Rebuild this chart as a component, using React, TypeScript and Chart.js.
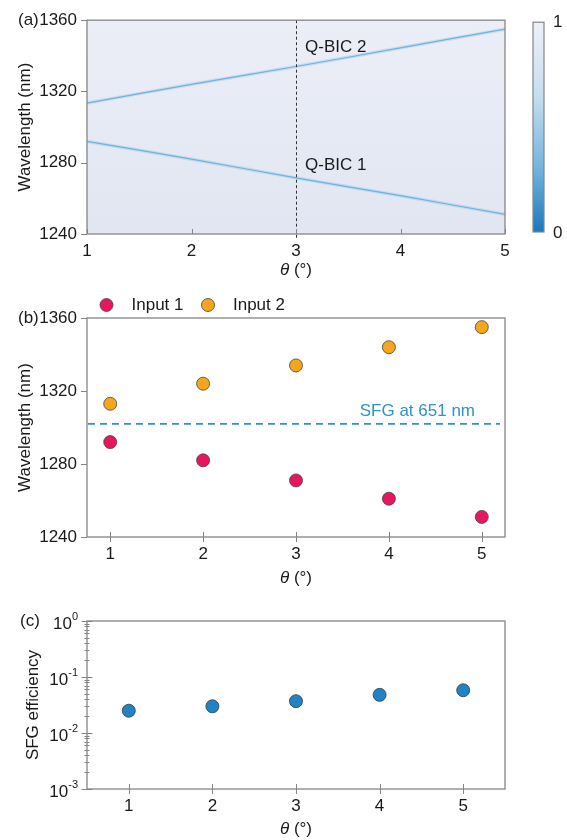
import React, { useEffect, useRef } from 'react';
import { Chart, registerables } from 'chart.js';
Chart.register(...registerables);

// ---------- data ----------
const thetaDeg = [1, 2, 3, 4, 5];
// panel (a): Q-BIC resonance traces in the reflectance map
const qbic1Curve = [1292, 1282, 1271.5, 1261.5, 1251];
const qbic2Curve = [1313.5, 1324, 1334, 1344.5, 1355];
const qbicLabels = ['Q-BIC 1', 'Q-BIC 2'];
const qbicLabelWl = [1278.5, 1345];
const markedTheta = [3];
const colorbarLabels = ['0', '1'];
// panel (b)
const input1Wl = [1292, 1282, 1271, 1261, 1251];
const input2Wl = [1313, 1324, 1334, 1344, 1355];
const sfgWavelength = [1302];
const sfgLabel = 'SFG at 651 nm';
const wlTicks = [1240, 1280, 1320, 1360];
// panel (c)
const sfgEfficiency = [0.025, 0.03, 0.037, 0.048, 0.058];
const effTickExps = [-3, -2, -1, 0];

// ---------- style ----------
const FONT = '"Liberation Sans", Arial, Helvetica, sans-serif';
const TEXT = '#1a1a1a';
const AXIS = '#868686';
const W = 567;

const xy = (ys: number[]) => thetaDeg.map((t, i) => ({ x: t, y: ys[i] }));

function xScale(min: number, max: number, h: number) {
  return {
    type: 'linear',
    min,
    max,
    grid: { display: false, drawTicks: false },
    border: { display: false },
    afterBuildTicks: (s: any) => {
      s.ticks = thetaDeg.map((v) => ({ value: v }));
    },
    afterFit: (s: any) => {
      s.height = h;
    },
    ticks: {
      font: { family: FONT, size: 17 },
      color: TEXT,
      padding: 7,
      autoSkip: false,
      maxRotation: 0,
      callback: (v: any) => String(v),
    },
  };
}

function wlScale(titlePad: number) {
  return {
    type: 'linear',
    min: wlTicks[0],
    max: wlTicks[wlTicks.length - 1],
    grid: { display: false, drawTicks: false },
    border: { display: false },
    afterBuildTicks: (s: any) => {
      s.ticks = wlTicks.map((v) => ({ value: v }));
    },
    afterFit: (s: any) => {
      s.width = 87;
    },
    ticks: {
      font: { family: FONT, size: 17 },
      color: TEXT,
      padding: 10,
      callback: (v: any) => String(v),
    },
    title: {
      display: true,
      text: 'Wavelength (nm)',
      color: TEXT,
      font: { family: FONT, size: 17 },
      padding: { top: titlePad, bottom: 0 },
    },
  };
}

function drawFrame(
  chart: any,
  o: { xIn: number; xOut: number; yIn: number; yOut: number; yValues: number[]; yMinor?: number[]; mIn?: number; mOut?: number }
) {
  const { ctx, chartArea: a, scales } = chart;
  ctx.save();
  ctx.strokeStyle = AXIS;
  ctx.lineWidth = 1.3;
  ctx.strokeRect(a.left, a.top, a.right - a.left, a.bottom - a.top);
  ctx.lineWidth = 1;
  ctx.beginPath();
  for (const t of scales.x.ticks) {
    const px = Math.round(scales.x.getPixelForValue(t.value)) + 0.5;
    ctx.moveTo(px, a.bottom - o.xIn);
    ctx.lineTo(px, a.bottom + o.xOut);
  }
  for (const v of o.yValues) {
    const py = Math.round(scales.y.getPixelForValue(v)) + 0.5;
    ctx.moveTo(a.left - o.yOut, py);
    ctx.lineTo(a.left + o.yIn, py);
  }
  if (o.yMinor) {
    for (const v of o.yMinor) {
      const py = Math.round(scales.y.getPixelForValue(v)) + 0.5;
      ctx.moveTo(a.left - (o.mOut || 0), py);
      ctx.lineTo(a.left + (o.mIn || 0), py);
    }
  }
  ctx.stroke();
  ctx.restore();
}

function drawThetaTitle(chart: any, dy: number) {
  const { ctx, chartArea: a } = chart;
  const cx = (a.left + a.right) / 2;
  const y = a.bottom + dy;
  ctx.save();
  ctx.fillStyle = TEXT;
  ctx.textBaseline = 'middle';
  ctx.textAlign = 'left';
  const fi = `italic 17px ${FONT}`;
  const fn = `17px ${FONT}`;
  ctx.font = fi;
  const w1 = ctx.measureText('θ').width;
  ctx.font = fn;
  const w2 = ctx.measureText(' (°)').width;
  const x0 = cx - (w1 + w2) / 2;
  ctx.font = fi;
  ctx.fillText('θ', x0, y);
  ctx.font = fn;
  ctx.fillText(' (°)', x0 + w1, y);
  ctx.restore();
}

function drawText(chart: any, text: string, x: number, y: number, align = 'left', color = TEXT, size = 17) {
  const { ctx } = chart;
  ctx.save();
  ctx.fillStyle = color;
  ctx.font = `${size}px ${FONT}`;
  ctx.textAlign = align;
  ctx.textBaseline = 'middle';
  ctx.fillText(text, x, y);
  ctx.restore();
}

// ---------- panel (a) ----------
function configA(): any {
  const plugin = {
    id: 'panelA',
    beforeDatasetsDraw(chart: any) {
      const { ctx, chartArea: a } = chart;
      const g = ctx.createLinearGradient(0, a.top, 0, a.bottom);
      g.addColorStop(0, '#eceef7');
      g.addColorStop(1, '#e1e6f2');
      ctx.save();
      ctx.fillStyle = g;
      ctx.fillRect(a.left, a.top, a.right - a.left, a.bottom - a.top);
      ctx.restore();
    },
    afterDatasetsDraw(chart: any) {
      const { ctx, chartArea: a, scales } = chart;
      const px = Math.round(scales.x.getPixelForValue(markedTheta[0])) + 0.5;
      ctx.save();
      ctx.strokeStyle = '#333';
      ctx.lineWidth = 1;
      ctx.setLineDash([3, 2.5]);
      ctx.beginPath();
      ctx.moveTo(px, a.top);
      ctx.lineTo(px, a.bottom + 5);
      ctx.stroke();
      ctx.restore();
      qbicLabels.forEach((t, i) => {
        drawText(chart, t, px + 8.5, scales.y.getPixelForValue(qbicLabelWl[i]));
      });
    },
    afterDraw(chart: any) {
      const { ctx, chartArea: a } = chart;
      drawFrame(chart, { xIn: 5, xOut: 0, yIn: 0, yOut: 6, yValues: wlTicks });
      drawThetaTitle(chart, 36);
      drawText(chart, '(a)', 18, a.top);
      // colorbar
      const cx = a.right + 28;
      const top = a.top + 2;
      const bot = a.bottom - 2;
      const g = ctx.createLinearGradient(0, top, 0, bot);
      g.addColorStop(0, '#eef0f8');
      g.addColorStop(0.35, '#c6def0');
      g.addColorStop(0.7, '#72b4de');
      g.addColorStop(1, '#1a78bc');
      ctx.save();
      ctx.fillStyle = g;
      ctx.fillRect(cx, top, 11, bot - top);
      ctx.strokeStyle = AXIS;
      ctx.lineWidth = 1.2;
      ctx.strokeRect(cx, top, 11, bot - top);
      ctx.restore();
      drawText(chart, colorbarLabels[1], cx + 20, top);
      drawText(chart, colorbarLabels[0], cx + 20, bot + 1);
    },
  };
  const halo = 'rgba(130,185,225,0.3)';
  const core = '#6aafdb';
  return {
    type: 'scatter',
    data: {
      datasets: [
        { data: xy(qbic1Curve), showLine: true, borderColor: halo, borderWidth: 3.5, pointRadius: 0, tension: 0.3 },
        { data: xy(qbic2Curve), showLine: true, borderColor: halo, borderWidth: 3.5, pointRadius: 0, tension: 0.3 },
        { data: xy(qbic1Curve), showLine: true, borderColor: core, borderWidth: 1.2, pointRadius: 0, tension: 0.3 },
        { data: xy(qbic2Curve), showLine: true, borderColor: core, borderWidth: 1.2, pointRadius: 0, tension: 0.3 },
      ],
    },
    options: {
      animation: false,
      responsive: false,
      devicePixelRatio: 1,
      layout: { padding: { left: 0, right: 62, top: 16, bottom: 0 } },
      plugins: { legend: { display: false }, tooltip: { enabled: false } },
      scales: { x: xScale(1, 5, 56), y: wlScale(15) },
    },
    plugins: [plugin],
  };
}

// ---------- panel (b) ----------
function configB(): any {
  const plugin = {
    id: 'panelB',
    beforeDatasetsDraw(chart: any) {
      const { ctx, chartArea: a, scales } = chart;
      const py = scales.y.getPixelForValue(sfgWavelength[0]);
      ctx.save();
      ctx.strokeStyle = '#2f93c9';
      ctx.lineWidth = 1.6;
      ctx.setLineDash([7, 5]);
      ctx.beginPath();
      ctx.moveTo(a.left + 1, py);
      ctx.lineTo(a.right - 5, py);
      ctx.stroke();
      ctx.restore();
      drawText(chart, sfgLabel, a.right - 30, py - 13, 'right', '#2f93c9');
    },
    afterDraw(chart: any) {
      const { ctx, chartArea: a } = chart;
      drawFrame(chart, { xIn: 5, xOut: 5, yIn: 0, yOut: 6, yValues: wlTicks });
      drawThetaTitle(chart, 41);
      drawText(chart, '(b)', 18, a.top);
      // legend
      let x = 100;
      const y = a.top - 13;
      ctx.save();
      ctx.font = `17px ${FONT}`;
      for (const ds of chart.data.datasets) {
        ctx.beginPath();
        ctx.arc(x + 6.5, y, 6.5, 0, Math.PI * 2);
        ctx.fillStyle = ds.backgroundColor;
        ctx.fill();
        ctx.lineWidth = 0.8;
        ctx.strokeStyle = ds.borderColor;
        ctx.stroke();
        ctx.fillStyle = TEXT;
        ctx.textAlign = 'left';
        ctx.textBaseline = 'middle';
        ctx.fillText(ds.label, x + 31.5, y);
        x += 31.5 + ctx.measureText(ds.label).width + 18;
      }
      ctx.restore();
    },
  };
  return {
    type: 'scatter',
    data: {
      datasets: [
        { label: 'Input 1', data: xy(input1Wl), backgroundColor: '#e8175d', borderColor: '#444', borderWidth: 0.8, pointRadius: 6.5 },
        { label: 'Input 2', data: xy(input2Wl), backgroundColor: '#f6a61c', borderColor: '#444', borderWidth: 0.8, pointRadius: 6.5 },
      ],
    },
    options: {
      animation: false,
      responsive: false,
      devicePixelRatio: 1,
      layout: { padding: { left: 0, right: 62, top: 28, bottom: 0 } },
      plugins: { legend: { display: false }, tooltip: { enabled: false } },
      scales: { x: xScale(0.75, 5.25, 53), y: wlScale(15) },
    },
    plugins: [plugin],
  };
}

// ---------- panel (c) ----------
function configC(): any {
  const minor: number[] = [];
  for (let i = 0; i < effTickExps.length - 1; i++) {
    for (let k = 2; k <= 9; k++) minor.push(k * Math.pow(10, effTickExps[i]));
  }
  const majors = effTickExps.map((e) => Math.pow(10, e));
  const plugin = {
    id: 'panelC',
    afterDraw(chart: any) {
      const { ctx, chartArea: a, scales } = chart;
      drawFrame(chart, { xIn: 5, xOut: 5, yIn: 5.5, yOut: 5.5, yValues: majors, yMinor: minor, mIn: 2.5, mOut: 2.5 });
      drawThetaTitle(chart, 40);
      drawText(chart, '(c)', 20, a.top);
      const right = a.left - 9;
      ctx.save();
      ctx.fillStyle = TEXT;
      ctx.textAlign = 'right';
      ctx.textBaseline = 'middle';
      for (const e of effTickExps) {
        const py = scales.y.getPixelForValue(Math.pow(10, e));
        const sup = String(e);
        ctx.font = `11px ${FONT}`;
        const ws = ctx.measureText(sup).width;
        ctx.fillText(sup, right, py - 4);
        ctx.font = `17px ${FONT}`;
        ctx.fillText('10', right - ws, py + 3);
      }
      ctx.restore();
    },
  };
  return {
    type: 'scatter',
    data: {
      datasets: [
        { label: 'SFG efficiency', data: xy(sfgEfficiency), backgroundColor: '#1f83c5', borderColor: '#3a3a3a', borderWidth: 0.8, pointRadius: 6.5 },
      ],
    },
    options: {
      animation: false,
      responsive: false,
      devicePixelRatio: 1,
      layout: { padding: { left: 0, right: 62, top: 31, bottom: 0 } },
      plugins: { legend: { display: false }, tooltip: { enabled: false } },
      scales: {
        x: xScale(0.5, 5.5, 51),
        y: {
          type: 'logarithmic',
          min: Math.pow(10, effTickExps[0]),
          max: Math.pow(10, effTickExps[effTickExps.length - 1]),
          grid: { display: false, drawTicks: false },
          border: { display: false },
          ticks: { display: false },
          afterFit: (s: any) => {
            s.width = 87;
          },
          title: {
            display: true,
            text: 'SFG efficiency',
            color: TEXT,
            font: { family: FONT, size: 17 },
            padding: { top: 23, bottom: 0 },
          },
        },
      },
    },
    plugins: [plugin],
  };
}

export default function App() {
  const ra = useRef<HTMLCanvasElement>(null);
  const rb = useRef<HTMLCanvasElement>(null);
  const rc = useRef<HTMLCanvasElement>(null);
  useEffect(() => {
    const charts = [
      new Chart(ra.current as HTMLCanvasElement, configA()),
      new Chart(rb.current as HTMLCanvasElement, configB()),
      new Chart(rc.current as HTMLCanvasElement, configC()),
    ];
    return () => charts.forEach((c) => c.destroy());
  }, []);
  return (
    <div style={{ position: 'absolute', left: 0, top: 0, width: W, height: 840, background: '#fff' }}>
      <canvas ref={ra} width={W} height={290} style={{ position: 'absolute', left: 0, top: 0 }} />
      <canvas ref={rb} width={W} height={300} style={{ position: 'absolute', left: 0, top: 290 }} />
      <canvas ref={rc} width={W} height={250} style={{ position: 'absolute', left: 0, top: 590 }} />
    </div>
  );
}
